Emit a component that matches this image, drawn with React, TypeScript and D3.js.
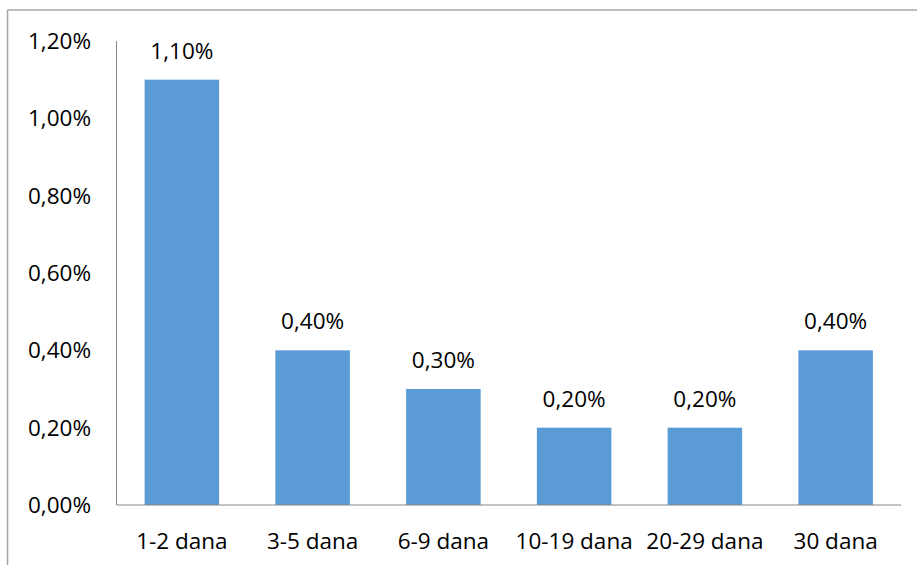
import React from "react";
import * as d3 from "d3";

const categories = ["1-2 dana", "3-5 dana", "6-9 dana", "10-19 dana", "20-29 dana", "30 dana"];
const values = [1.1, 0.4, 0.3, 0.2, 0.2, 0.4];
const yTicks = [0, 0.2, 0.4, 0.6, 0.8, 1.0, 1.2];

const fmt = (v: number) => v.toFixed(2).replace(".", ",") + "%";

export default function App() {
  const W = 917, H = 565;
  const x = d3.scaleBand<string>().domain(categories).range([116.5, 901]).paddingInner(0.43).paddingOuter(0.215);
  const y = d3.scaleLinear().domain([0, 1.2]).range([505, 41]);
  const font = "'Open Sans', sans-serif";
  const fs = 22.5;
  return (
    <svg width={W} height={H} style={{ position: "absolute", left: 0, top: 0 }}>
      <rect x={0} y={0} width={W} height={H} fill="#fff" />
      <line x1={7.5} y1={10} x2={W} y2={10} stroke="#a6a6a6" strokeWidth={1.5} />
      <line x1={7.5} y1={10} x2={7.5} y2={H} stroke="#a6a6a6" strokeWidth={1.5} />
      {categories.map((c, i) => (
        <rect key={c} x={x(c)} y={y(values[i])} width={x.bandwidth()} height={y(0) - y(values[i])} fill="#5b9bd5" />
      ))}
      <line x1={116.5} y1={y(1.2)} x2={116.5} y2={y(0)} stroke="#868686" strokeWidth={1} />
      <line x1={116.5} y1={y(0)} x2={901} y2={y(0)} stroke="#868686" strokeWidth={1} />
      {yTicks.map((t) => (
        <text key={t} x={91} y={y(t)} dy="0.36em" textAnchor="end" fontFamily={font} fontSize={fs} fill="#000">
          {fmt(t)}
        </text>
      ))}
      {categories.map((c, i) => (
        <text key={c} x={(x(c) as number) + x.bandwidth() / 2} y={y(values[i]) - 29} dy="0.36em" textAnchor="middle" fontFamily={font} fontSize={fs} fill="#000">
          {fmt(values[i])}
        </text>
      ))}
      {categories.map((c) => (
        <text key={c} x={(x(c) as number) + x.bandwidth() / 2} y={541} dy="0.36em" textAnchor="middle" fontFamily={font} fontSize={fs} fill="#000">
          {c}
        </text>
      ))}
    </svg>
  );
}
